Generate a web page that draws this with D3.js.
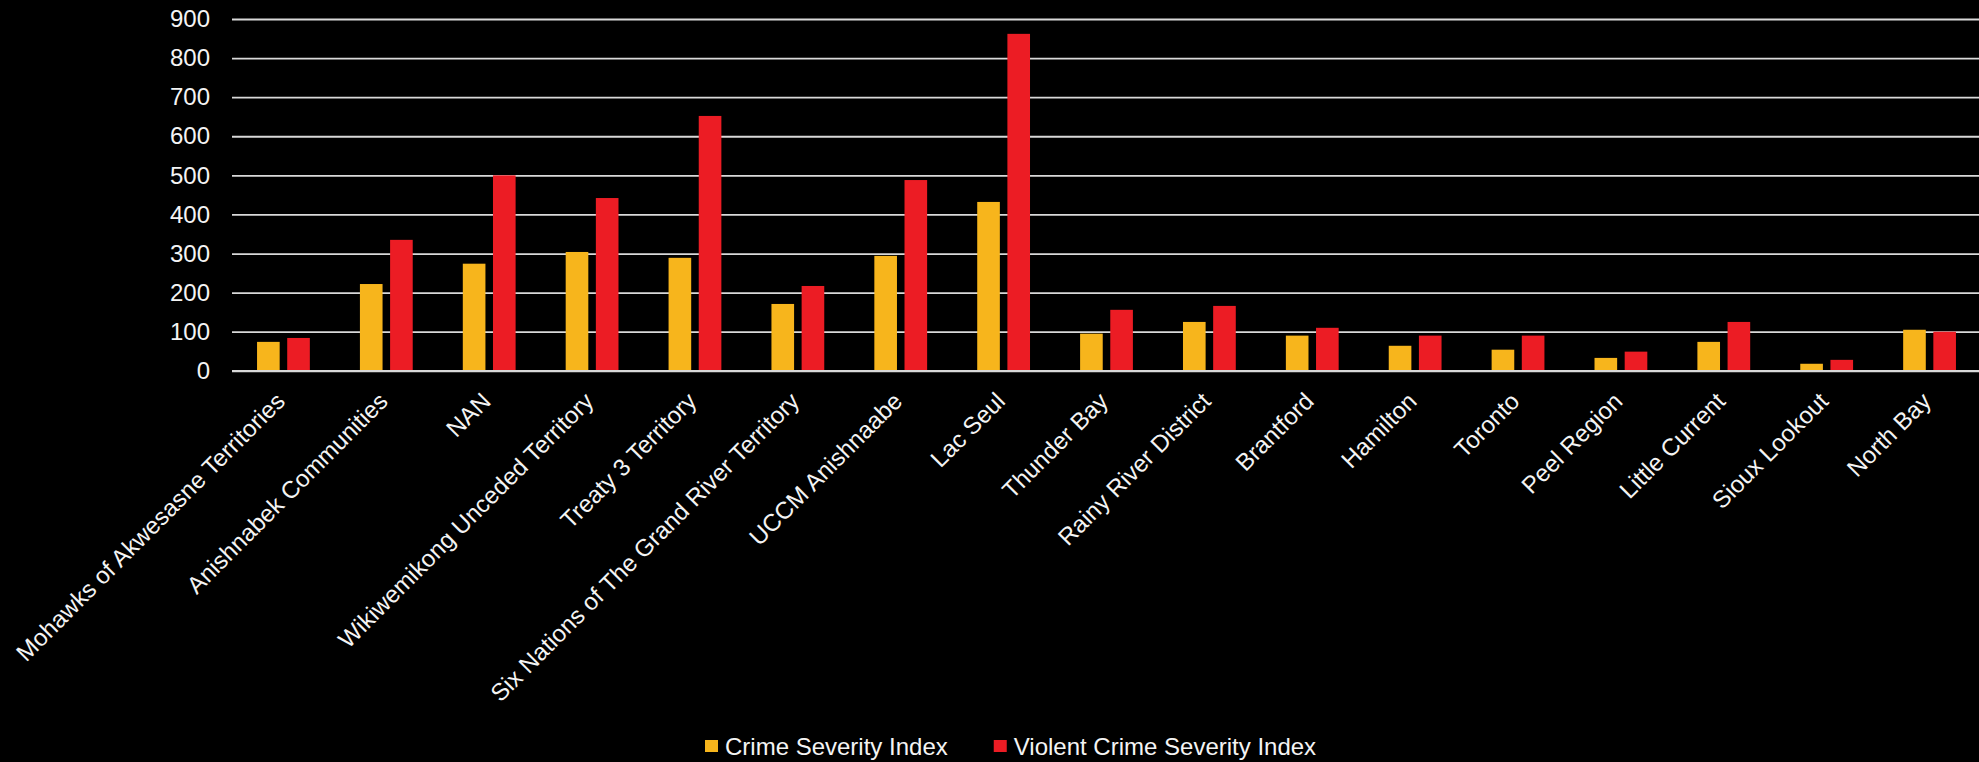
<!DOCTYPE html>
<html>
<head>
<meta charset="utf-8">
<script src="https://cdn.jsdelivr.net/npm/d3@7"></script>
<style>
  html, body { margin: 0; padding: 0; background: #000; }
  svg { display: block; }
  text { font-family: "Liberation Sans", Arial, sans-serif; }
</style>
</head>
<body>
<svg id="chart" width="1979" height="762"></svg>
<script>
const categories = [
  "Mohawks of Akwesasne Territories",
  "Anishnabek Communities",
  "NAN",
  "Wikiwemikong Unceded Territory",
  "Treaty 3 Territory",
  "Six Nations of The Grand River Territory",
  "UCCM Anishnaabe",
  "Lac Seul",
  "Thunder Bay",
  "Rainy River District",
  "Brantford",
  "Hamilton",
  "Toronto",
  "Peel Region",
  "Little Current",
  "Sioux Lookout",
  "North Bay"
];
const seriesNames = ["Crime Severity Index", "Violent Crime Severity Index"];
const crimeSeverity = [74, 222, 274, 304, 289, 171, 294, 432, 95, 125, 90, 64, 54, 33, 74, 18, 105];
const violentCrimeSeverity = [84, 335, 500, 442, 652, 217, 488, 862, 156, 166, 110, 90, 90, 49, 125, 28, 100];
const yTicks = [0, 100, 200, 300, 400, 500, 600, 700, 800, 900];
const colors = ["#F7B51C", "#EC1C24"];

const svg = d3.select("#chart");
const W = 1979, H = 762;
svg.append("rect").attr("width", W).attr("height", H).attr("fill", "#000");

const plotLeft = 232, plotRight = 1981, plotTop = 19, plotBottom = 370.8;
const fontSize = 24;
const textColor = "#f4f4f4";

const x0 = d3.scaleBand().domain(categories).range([plotLeft, plotRight]).padding(0);
const x1 = d3.scaleBand().domain(seriesNames).range([0, x0.bandwidth()])
  .paddingInner(0.25).paddingOuter(0.83);
const y = d3.scaleLinear().domain([0, 900]).range([plotBottom, plotTop]);

// gridlines
const yAxis = d3.axisLeft(y).tickValues(yTicks).tickSize(-(plotRight - plotLeft)).tickPadding(22).tickFormat(d3.format("d"));
const gy = svg.append("g").attr("transform", `translate(${plotLeft},0)`).call(yAxis);
gy.select(".domain").remove();
gy.selectAll(".tick line").attr("stroke", "#d9d9d9").attr("stroke-width", 1.8);
gy.selectAll(".tick text").attr("fill", textColor).attr("font-size", fontSize)
  .attr("font-family", "'Liberation Sans', Arial, sans-serif");

// bars
const rows = categories.map((c, i) => ({ cat: c, values: [crimeSeverity[i], violentCrimeSeverity[i]] }));
const groups = svg.append("g").selectAll("g").data(rows).join("g")
  .attr("transform", d => `translate(${x0(d.cat)},0)`);
groups.selectAll("rect").data(d => d.values.map((v, k) => ({ key: seriesNames[k], v, k })))
  .join("rect")
  .attr("x", d => x1(d.key))
  .attr("width", x1.bandwidth())
  .attr("y", d => y(d.v))
  .attr("height", d => y(0) - y(d.v))
  .attr("fill", d => colors[d.k]);

// baseline redraw on top
svg.append("line").attr("x1", plotLeft).attr("x2", plotRight)
  .attr("y1", y(0)).attr("y2", y(0)).attr("stroke", "#d9d9d9").attr("stroke-width", 1.8);

// x labels
const xAxis = d3.axisBottom(x0).tickSize(0).tickPadding(0);
const gx = svg.append("g").attr("transform", `translate(0,${plotBottom})`).call(xAxis);
gx.select(".domain").remove();
gx.selectAll(".tick text")
  .attr("fill", textColor).attr("font-size", fontSize)
  .attr("font-family", "'Liberation Sans', Arial, sans-serif")
  .attr("text-anchor", "end")
  .attr("dy", "0.35em")
  .attr("y", 0)
  .attr("transform", "translate(-3,26) rotate(-45)");

// legend
const legend = svg.append("g");
let lx = 705;
seriesNames.forEach((name, k) => {
  legend.append("rect").attr("x", lx).attr("y", 740).attr("width", 13).attr("height", 12).attr("fill", colors[k]);
  const t = legend.append("text").attr("x", lx + 20).attr("y", 755)
    .attr("fill", textColor).attr("font-size", fontSize).text(name);
  const w = t.node().getComputedTextLength();
  lx = lx + 20 + w + 46;
});
</script>
</body>
</html>
